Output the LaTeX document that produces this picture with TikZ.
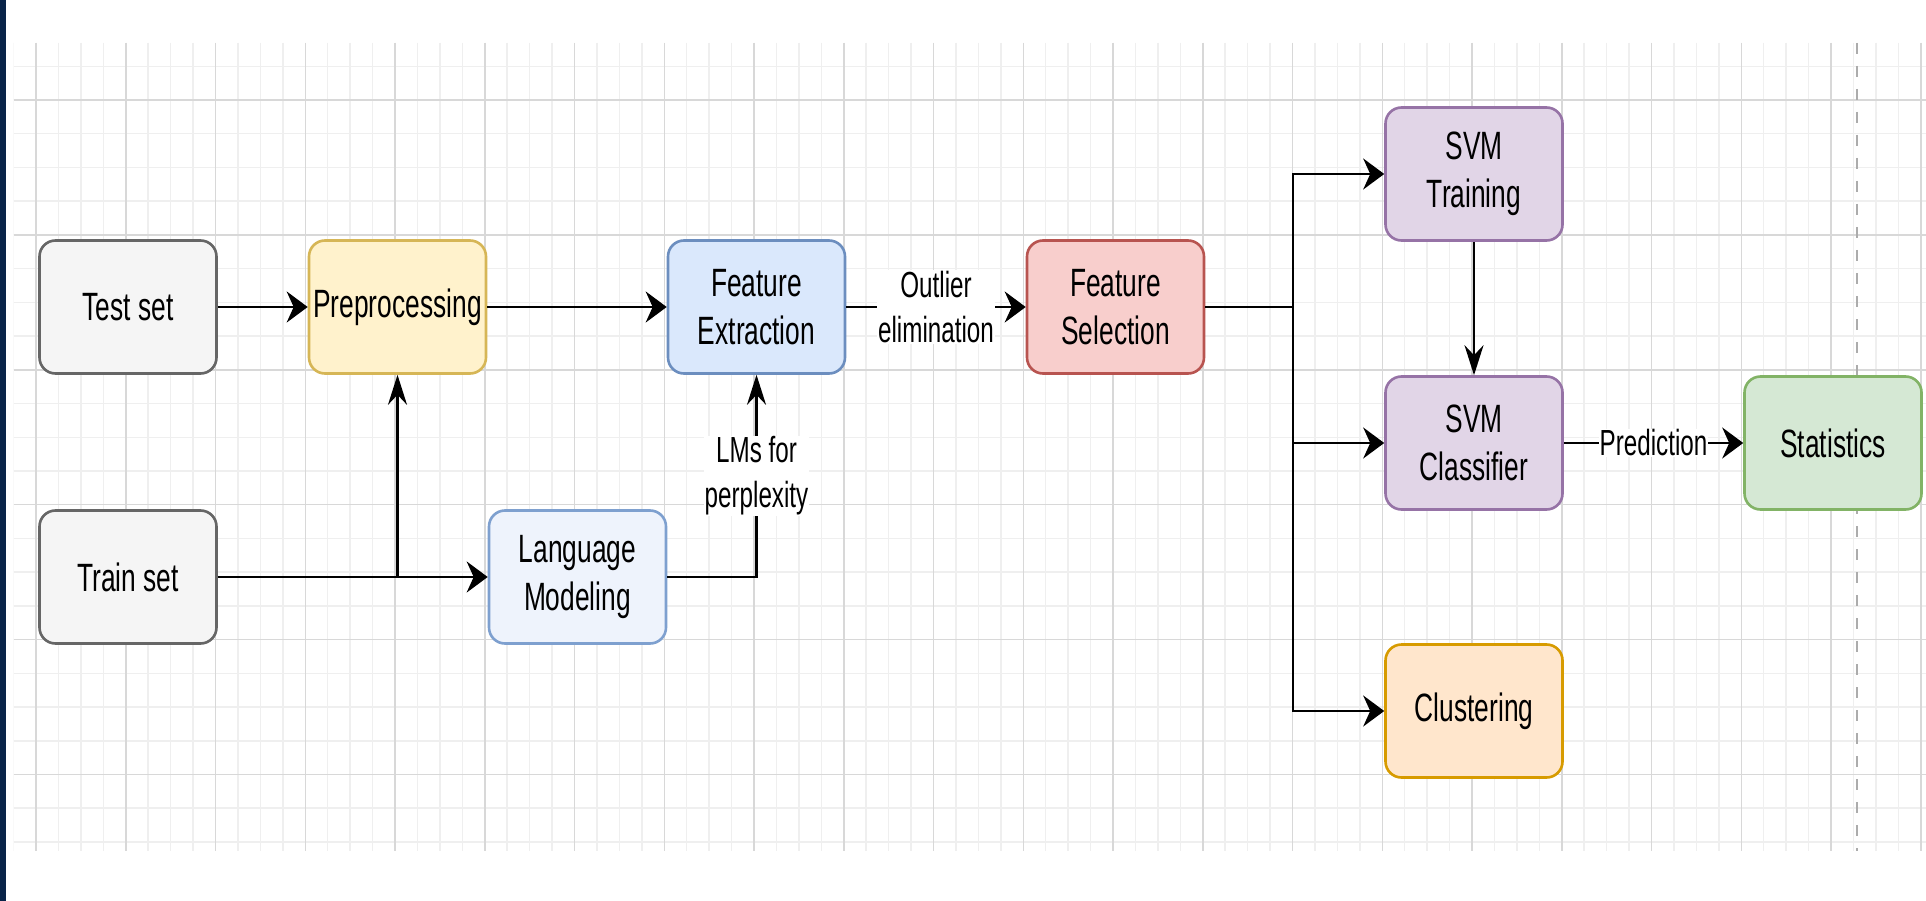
\documentclass[tikz,border=0pt]{standalone}
\usepackage{fontspec}
\usepackage{tikz}
\usetikzlibrary{arrows.meta}
\newfontfamily\boxfont[FakeStretch=0.667]{Liberation Sans}

\definecolor{navy}{RGB}{8,35,72}
\definecolor{gridminor}{RGB}{239,239,239}
\definecolor{gridmajor}{RGB}{216,216,216}
\definecolor{grayfill}{HTML}{F5F5F5}
\definecolor{grayline}{HTML}{666666}
\definecolor{yellowfill}{HTML}{FFF2CC}
\definecolor{yellowline}{HTML}{D6B656}
\definecolor{bluefill}{HTML}{DAE8FC}
\definecolor{blueline}{HTML}{6C8EBF}
\definecolor{palebluefill}{HTML}{EEF3FC}
\definecolor{paleblueline}{HTML}{7EA0CF}
\definecolor{redfill}{HTML}{F8CECC}
\definecolor{redline}{HTML}{B85450}
\definecolor{purplefill}{HTML}{E1D5E7}
\definecolor{purpleline}{HTML}{9673A6}
\definecolor{greenfill}{HTML}{D5E8D4}
\definecolor{greenline}{HTML}{82B366}
\definecolor{orangefill}{HTML}{FFE6CC}
\definecolor{orangeline}{HTML}{D79B00}

\begin{document}
\begin{tikzpicture}
            [x=1pt,y=-1pt,
             block/.style={draw,rounded corners=16pt,line width=2.6pt,minimum width=177pt,minimum height=133pt,
                           inner sep=0pt,align=center,font=\boxfont\fontsize{39.5}{47.5}\selectfont},
             link/.style={line width=2.6pt},
             hto/.style={-{Stealth[length=21pt,width=31pt,inset=7pt]}},
             vto/.style={-{Stealth[length=30pt,width=19pt,inset=10pt]}},
             lab/.style={fill=white,inner sep=1pt,align=center,font=\boxfont\fontsize{36.3}{45}\selectfont}]
            \useasboundingbox (0,0) rectangle (1926,901);
            \fill[white] (0,0) rectangle (1926,901);
            \fill[navy] (0,0) rectangle (6,901);

            % grid
            \begin{scope}
              \clip (13.5,43) rectangle (1926,851);
              \foreach \i in {-1,...,84}
                \draw[gridminor,line width=1.5pt] ({36+22.4375*\i},43) -- ({36+22.4375*\i},851);
              \foreach \j in {-1,...,22}
                \draw[gridminor,line width=1.5pt] (13.5,{100+33.725*\j}) -- (1926,{100+33.725*\j});
              \foreach \i in {0,...,21}
                \draw[gridmajor,line width=1.5pt] ({36+89.75*\i},43) -- ({36+89.75*\i},851);
              \foreach \j in {0,...,5}
                \draw[gridmajor,line width=1.5pt] (13.5,{100+134.9*\j}) -- (1926,{100+134.9*\j});
            \end{scope}
            \draw[gray!65,line width=1.8pt,dash pattern=on 11pt off 12pt] (1857,43) -- (1857,851);

            % boxes
            \node[block,fill=grayfill,draw=grayline] (test) at (128,307) {Test set};
            \node[block,fill=grayfill,draw=grayline] (train) at (128,577) {Train set};
            \node[block,fill=yellowfill,draw=yellowline] (prep) at (397.5,307) {Preprocessing};
            \node[block,fill=palebluefill,draw=paleblueline] (lm) at (577.5,577) {Language\\Modeling};
            \node[block,fill=bluefill,draw=blueline] (fe) at (756.5,307) {Feature\\Extraction};
            \node[block,fill=redfill,draw=redline] (fs) at (1115.5,307) {Feature\\Selection};
            \node[block,fill=purplefill,draw=purpleline] (svmt) at (1474,174) {SVM\\Training};
            \node[block,fill=purplefill,draw=purpleline] (svmc) at (1474,443) {SVM\\Classifier};
            \node[block,fill=orangefill,draw=orangeline] (clus) at (1474,711) {Clustering};
            \node[block,fill=greenfill,draw=greenline] (stat) at (1833,443) {Statistics};
            \coordinate (split) at (1293,307);

            % data flow
            \draw[link,hto] (test) -- (prep);
            \draw[link,hto] (prep) -- (fe);
            \draw[link,vto] (train.east) -| (prep.south);
            \draw[link,hto] (train) -- (lm);
            \draw[link,vto] (lm.east) -| node[lab,pos=0.75] {LMs for\\perplexity} (fe.south);
            \draw[link,hto] (fe) -- node[lab] {Outlier\\elimination} (fs);
            % classification
            \draw[link] (fs) -- (split);
            \draw[link,hto] (split) |- (svmt);
            \draw[link,hto] (split) |- (svmc);
            \draw[link,hto] (split) |- (clus);
            \draw[link,vto] (svmt) -- (svmc);
            \draw[link,hto] (svmc) -- node[lab] {Prediction} (stat);
        \end{tikzpicture}
\end{document}
